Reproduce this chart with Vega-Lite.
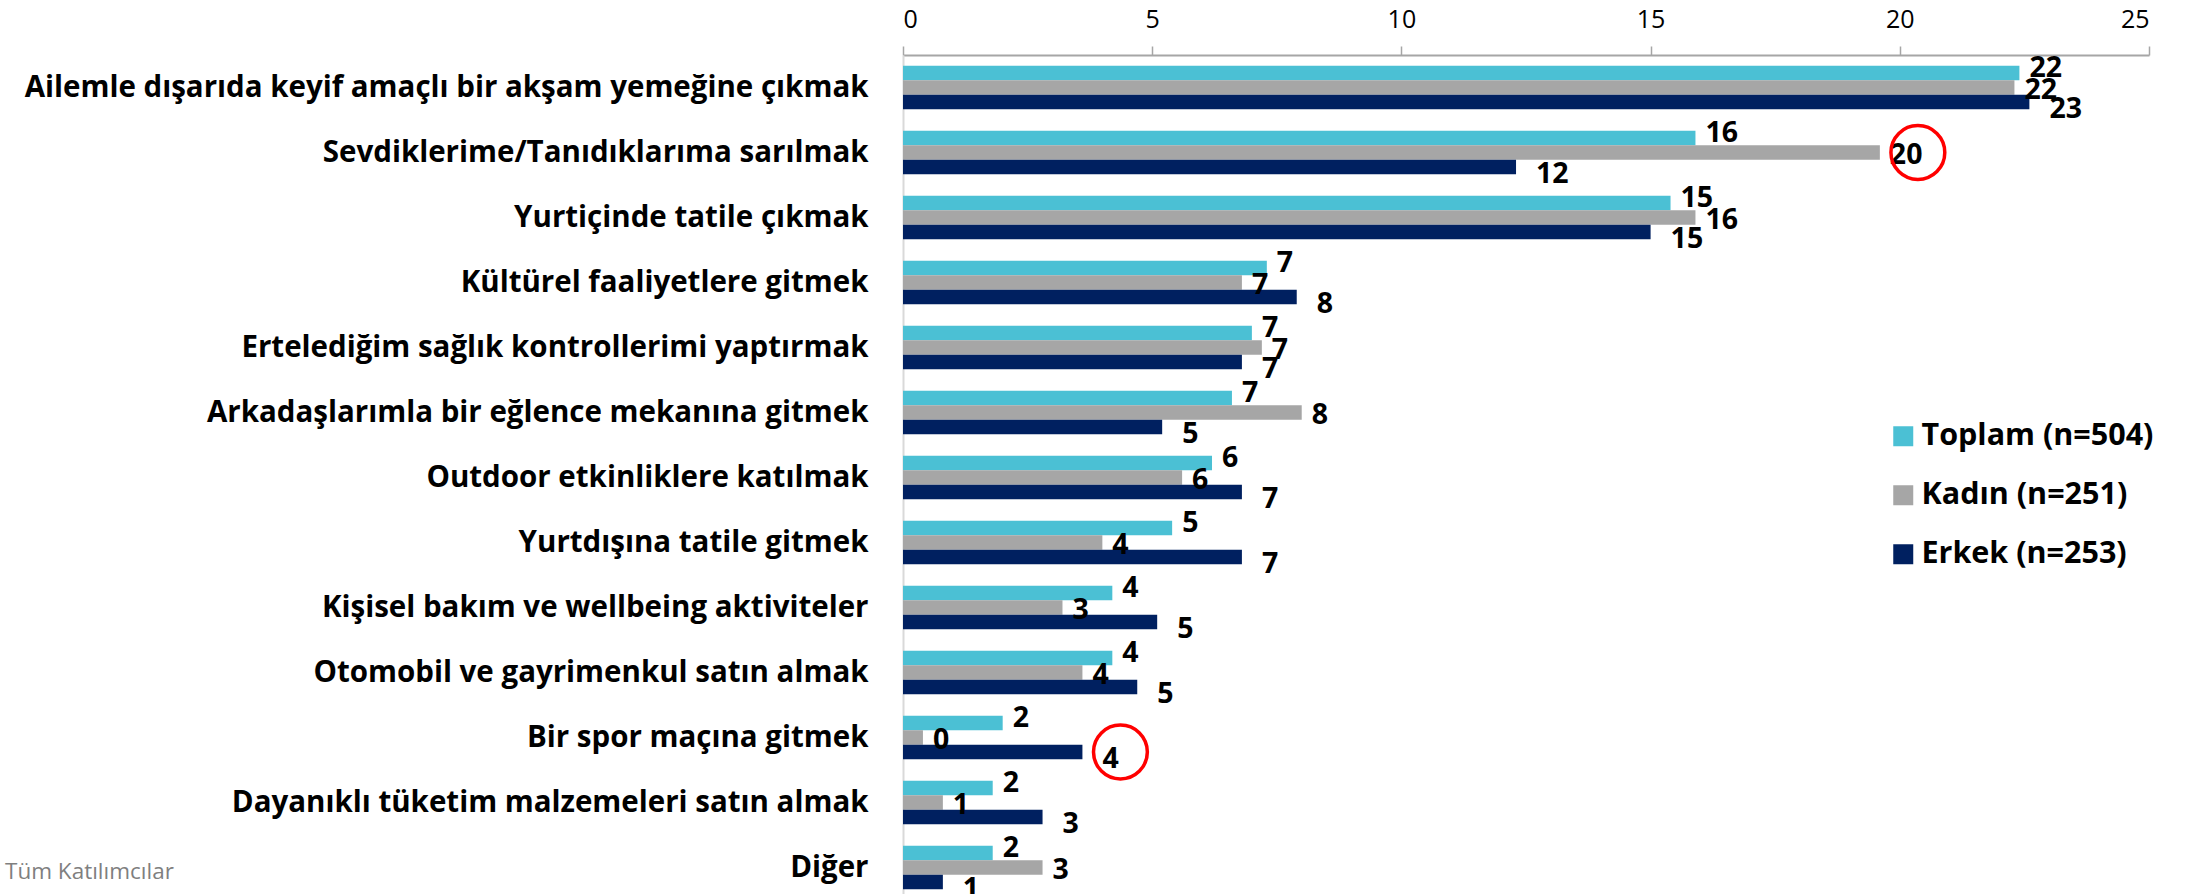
{
  "$schema": "https://vega.github.io/schema/vega-lite/v6.json",
  "width": 1246,
  "height": 845,
  "padding": {"left": 5, "top": 5, "right": 0, "bottom": 0},
  "config": {"view": {"stroke": null}, "font": "Open Sans"},
  "title": {"text": "Tüm Katılımcılar", "orient": "bottom", "anchor": "start", "frame": "bounds", "offset": -43, "fontSize": 22.5, "fontWeight": "normal", "color": "#7F7F7F", "font": "Open Sans"},
  "datasets": {
    "bars": [
      {"activity": "Ailemle dışarıda keyif amaçlı bir akşam yemeğine çıkmak", "series": "Toplam (n=504)", "value": 22.4},
      {"activity": "Ailemle dışarıda keyif amaçlı bir akşam yemeğine çıkmak", "series": "Kadın (n=251)", "value": 22.3},
      {"activity": "Ailemle dışarıda keyif amaçlı bir akşam yemeğine çıkmak", "series": "Erkek (n=253)", "value": 22.6},
      {"activity": "Sevdiklerime/Tanıdıklarıma sarılmak", "series": "Toplam (n=504)", "value": 15.9},
      {"activity": "Sevdiklerime/Tanıdıklarıma sarılmak", "series": "Kadın (n=251)", "value": 19.6},
      {"activity": "Sevdiklerime/Tanıdıklarıma sarılmak", "series": "Erkek (n=253)", "value": 12.3},
      {"activity": "Yurtiçinde tatile çıkmak", "series": "Toplam (n=504)", "value": 15.4},
      {"activity": "Yurtiçinde tatile çıkmak", "series": "Kadın (n=251)", "value": 15.9},
      {"activity": "Yurtiçinde tatile çıkmak", "series": "Erkek (n=253)", "value": 15.0},
      {"activity": "Kültürel faaliyetlere gitmek", "series": "Toplam (n=504)", "value": 7.3},
      {"activity": "Kültürel faaliyetlere gitmek", "series": "Kadın (n=251)", "value": 6.8},
      {"activity": "Kültürel faaliyetlere gitmek", "series": "Erkek (n=253)", "value": 7.9},
      {"activity": "Ertelediğim sağlık kontrollerimi yaptırmak", "series": "Toplam (n=504)", "value": 7.0},
      {"activity": "Ertelediğim sağlık kontrollerimi yaptırmak", "series": "Kadın (n=251)", "value": 7.2},
      {"activity": "Ertelediğim sağlık kontrollerimi yaptırmak", "series": "Erkek (n=253)", "value": 6.8},
      {"activity": "Arkadaşlarımla bir eğlence mekanına gitmek", "series": "Toplam (n=504)", "value": 6.6},
      {"activity": "Arkadaşlarımla bir eğlence mekanına gitmek", "series": "Kadın (n=251)", "value": 8.0},
      {"activity": "Arkadaşlarımla bir eğlence mekanına gitmek", "series": "Erkek (n=253)", "value": 5.2},
      {"activity": "Outdoor etkinliklere katılmak", "series": "Toplam (n=504)", "value": 6.2},
      {"activity": "Outdoor etkinliklere katılmak", "series": "Kadın (n=251)", "value": 5.6},
      {"activity": "Outdoor etkinliklere katılmak", "series": "Erkek (n=253)", "value": 6.8},
      {"activity": "Yurtdışına tatile gitmek", "series": "Toplam (n=504)", "value": 5.4},
      {"activity": "Yurtdışına tatile gitmek", "series": "Kadın (n=251)", "value": 4.0},
      {"activity": "Yurtdışına tatile gitmek", "series": "Erkek (n=253)", "value": 6.8},
      {"activity": "Kişisel bakım ve wellbeing aktiviteler", "series": "Toplam (n=504)", "value": 4.2},
      {"activity": "Kişisel bakım ve wellbeing aktiviteler", "series": "Kadın (n=251)", "value": 3.2},
      {"activity": "Kişisel bakım ve wellbeing aktiviteler", "series": "Erkek (n=253)", "value": 5.1},
      {"activity": "Otomobil ve gayrimenkul satın almak", "series": "Toplam (n=504)", "value": 4.2},
      {"activity": "Otomobil ve gayrimenkul satın almak", "series": "Kadın (n=251)", "value": 3.6},
      {"activity": "Otomobil ve gayrimenkul satın almak", "series": "Erkek (n=253)", "value": 4.7},
      {"activity": "Bir spor maçına gitmek", "series": "Toplam (n=504)", "value": 2.0},
      {"activity": "Bir spor maçına gitmek", "series": "Kadın (n=251)", "value": 0.4},
      {"activity": "Bir spor maçına gitmek", "series": "Erkek (n=253)", "value": 3.6},
      {"activity": "Dayanıklı tüketim malzemeleri satın almak", "series": "Toplam (n=504)", "value": 1.8},
      {"activity": "Dayanıklı tüketim malzemeleri satın almak", "series": "Kadın (n=251)", "value": 0.8},
      {"activity": "Dayanıklı tüketim malzemeleri satın almak", "series": "Erkek (n=253)", "value": 2.8},
      {"activity": "Diğer", "series": "Toplam (n=504)", "value": 1.8},
      {"activity": "Diğer", "series": "Kadın (n=251)", "value": 2.8},
      {"activity": "Diğer", "series": "Erkek (n=253)", "value": 0.8}
    ],
    "highlights": [
      {"activity": "Sevdiklerime/Tanıdıklarıma sarılmak", "series": "Kadın (n=251)", "value": 19.6},
      {"activity": "Bir spor maçına gitmek", "series": "Erkek (n=253)", "value": 3.6}
    ]
  },
  "encoding": {
    "y": {
      "field": "activity",
      "type": "nominal",
      "sort": ["Ailemle dışarıda keyif amaçlı bir akşam yemeğine çıkmak", "Sevdiklerime/Tanıdıklarıma sarılmak", "Yurtiçinde tatile çıkmak", "Kültürel faaliyetlere gitmek", "Ertelediğim sağlık kontrollerimi yaptırmak", "Arkadaşlarımla bir eğlence mekanına gitmek", "Outdoor etkinliklere katılmak", "Yurtdışına tatile gitmek", "Kişisel bakım ve wellbeing aktiviteler", "Otomobil ve gayrimenkul satın almak", "Bir spor maçına gitmek", "Dayanıklı tüketim malzemeleri satın almak", "Diğer"],
      "scale": {"paddingInner": 0.33, "paddingOuter": 0.165},
      "axis": {"title": null, "orient": "left", "ticks": false, "domain": true, "domainColor": "#D9D9D9", "domainWidth": 2, "labelPadding": 35, "labelFontSize": 29.5, "labelFontWeight": "bold", "labelColor": "#000000", "labelLimit": 1000, "minExtent": 898, "maxExtent": 898, "labelFont": "Open Sans"}
    },
    "yOffset": {
      "field": "series",
      "type": "nominal",
      "sort": ["Toplam (n=504)", "Kadın (n=251)", "Erkek (n=253)"],
      "scale": {"domain": ["Toplam (n=504)", "Kadın (n=251)", "Erkek (n=253)"], "paddingInner": 0, "paddingOuter": 0}
    },
    "x": {
      "field": "value",
      "type": "quantitative",
      "scale": {"domain": [0, 25], "nice": false},
      "axis": {"title": null, "orient": "top", "values": [0, 5, 10, 15, 20, 25], "grid": false, "domainColor": "#A6A6A6", "domainWidth": 2, "tickColor": "#A6A6A6", "tickWidth": 1.5, "tickSize": 9, "labelFontSize": 25, "labelColor": "#000000", "labelPadding": 14, "labelFont": "Open Sans", "minExtent": 50, "maxExtent": 50}
    }
  },
  "layer": [
    {
      "data": {"name": "bars"},
      "mark": {"type": "bar"},
      "encoding": {
        "color": {
          "field": "series",
          "type": "nominal",
          "scale": {"domain": ["Toplam (n=504)", "Kadın (n=251)", "Erkek (n=253)"], "range": ["#4BC0D4", "#A6A6A6", "#002060"]},
          "legend": {"title": null, "orient": "none", "legendX": 985, "legendY": 366, "symbolType": "square", "symbolSize": 400, "symbolStrokeWidth": 0, "labelFontSize": 30.5, "labelFontWeight": "bold", "labelColor": "#000000", "labelFont": "Open Sans", "labelOffset": 3, "rowPadding": 28, "labelLimit": 1000}
        }
      }
    },
    {
      "data": {"name": "bars"},
      "transform": [{"filter": "datum.series === 'Toplam (n=504)'"}],
      "mark": {"type": "text", "align": "left", "baseline": "middle", "dx": 10, "dy": -5, "fontSize": 28.5, "fontWeight": "bold", "font": "Open Sans", "color": "#000000"},
      "encoding": {"text": {"field": "value", "type": "quantitative", "format": ".0f"}}
    },
    {
      "data": {"name": "bars"},
      "transform": [{"filter": "datum.series === 'Kadın (n=251)'"}],
      "mark": {"type": "text", "align": "left", "baseline": "middle", "dx": 10, "dy": 2, "fontSize": 28.5, "fontWeight": "bold", "font": "Open Sans", "color": "#000000"},
      "encoding": {"text": {"field": "value", "type": "quantitative", "format": ".0f"}}
    },
    {
      "data": {"name": "bars"},
      "transform": [{"filter": "datum.series === 'Erkek (n=253)'"}],
      "mark": {"type": "text", "align": "left", "baseline": "middle", "dx": 20, "dy": 7, "fontSize": 28.5, "fontWeight": "bold", "font": "Open Sans", "color": "#000000"},
      "encoding": {"text": {"field": "value", "type": "quantitative", "format": ".0f"}}
    },
    {
      "data": {"name": "highlights"},
      "mark": {"type": "point", "shape": "circle", "filled": false, "stroke": "#FF0000", "strokeWidth": 3.5, "size": 2900, "xOffset": 38, "opacity": 1}
    }
  ]
}
